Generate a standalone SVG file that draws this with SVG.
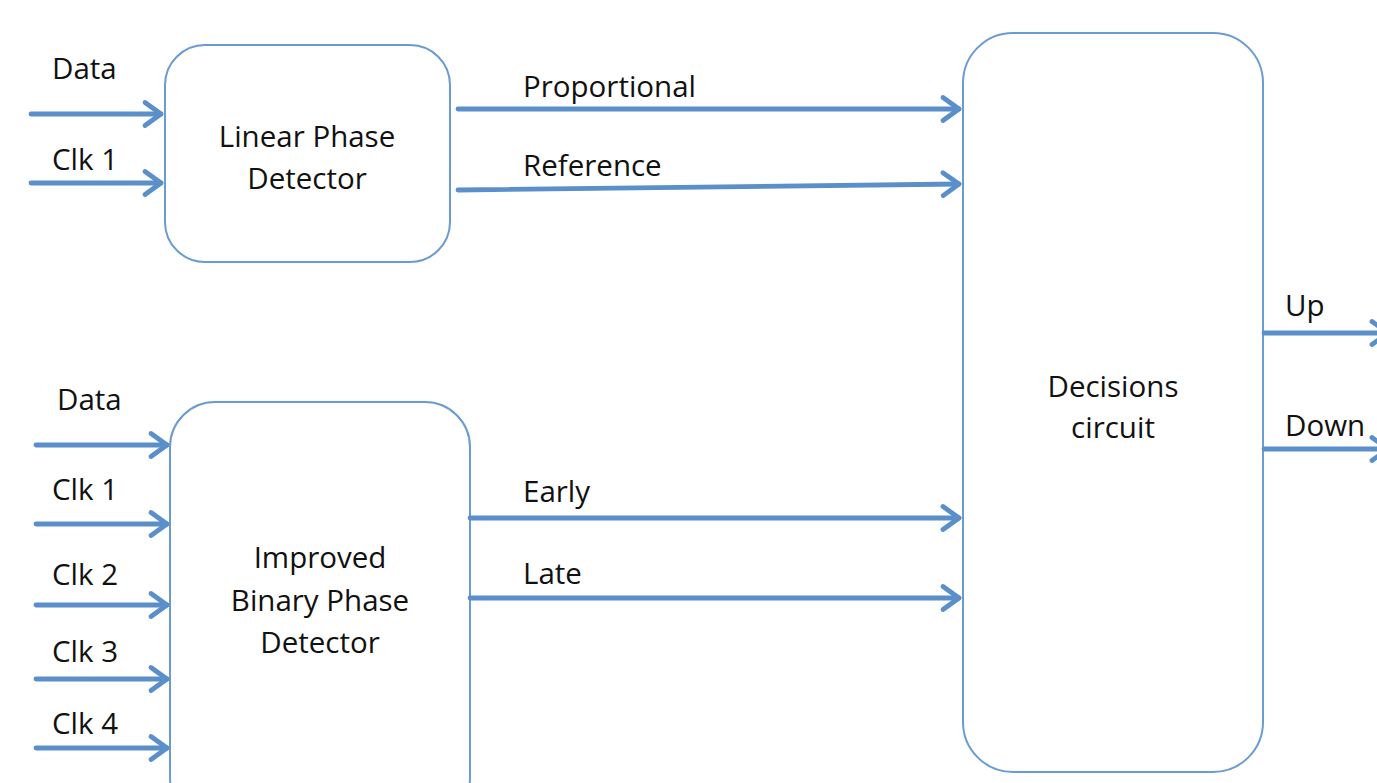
<svg xmlns="http://www.w3.org/2000/svg" width="1377" height="783" viewBox="0 0 1377 783">
<style>
.box{fill:#fff;stroke:#6a9bd1;stroke-width:2}
.wire{fill:none;stroke:#5b8fc9;stroke-width:4.8;stroke-linecap:round}
.t{font-family:"Open Sans","Liberation Sans",sans-serif;font-size:29.5px;fill:#111}
.c{text-anchor:middle}
</style>
<defs>
<marker id="ah" markerUnits="userSpaceOnUse" markerWidth="32" markerHeight="32" viewBox="-22 -16 32 32" refX="0" refY="0" orient="auto">
<path d="M-16,-11.5 L0,0 L-16,11.5" fill="none" stroke="#5b8fc9" stroke-width="4.8" stroke-linecap="round" stroke-linejoin="round"/>
</marker>
</defs>
<rect width="1377" height="783" fill="#fff"/>
<g id="lpd">
<rect class="box" x="165" y="45" width="285" height="217" rx="40"/>
<text class="t c" x="307" y="147">Linear Phase</text>
<text class="t c" x="307" y="189">Detector</text>
</g>
<g id="ibpd">
<rect class="box" x="170" y="402" width="300" height="420" rx="45"/>
<text class="t c" x="320" y="568">Improved</text>
<text class="t c" x="320" y="611">Binary Phase</text>
<text class="t c" x="320" y="653">Detector</text>
</g>
<g id="dc">
<rect class="box" x="963" y="33" width="300" height="739" rx="50"/>
<text class="t c" x="1113" y="397">Decisions</text>
<text class="t c" x="1113" y="438">circuit</text>
</g>
<g id="connectors">
<line class="wire" x1="31" y1="114" x2="161" y2="114" marker-end="url(#ah)"/>
<line class="wire" x1="31" y1="183" x2="161" y2="183" marker-end="url(#ah)"/>
<line class="wire" x1="458" y1="109" x2="959" y2="109" marker-end="url(#ah)"/>
<line class="wire" x1="458" y1="190" x2="959" y2="184" marker-end="url(#ah)"/>
<line class="wire" x1="36" y1="445" x2="167" y2="445" marker-end="url(#ah)"/>
<line class="wire" x1="36" y1="524" x2="167" y2="524" marker-end="url(#ah)"/>
<line class="wire" x1="36" y1="605" x2="167" y2="605" marker-end="url(#ah)"/>
<line class="wire" x1="36" y1="679" x2="167" y2="679" marker-end="url(#ah)"/>
<line class="wire" x1="36" y1="748" x2="167" y2="748" marker-end="url(#ah)"/>
<line class="wire" x1="470" y1="518" x2="959" y2="518" marker-end="url(#ah)"/>
<line class="wire" x1="470" y1="598" x2="959" y2="598" marker-end="url(#ah)"/>
<line class="wire" x1="1264" y1="333" x2="1388" y2="333" marker-end="url(#ah)"/>
<line class="wire" x1="1264" y1="449" x2="1388" y2="449" marker-end="url(#ah)"/>
</g>
<g id="labels">
<text class="t" x="52" y="79">Data</text>
<text class="t" x="52" y="170">Clk 1</text>
<text class="t" x="523" y="97">Proportional</text>
<text class="t" x="523" y="176">Reference</text>
<text class="t" x="57" y="410">Data</text>
<text class="t" x="52" y="500">Clk 1</text>
<text class="t" x="52" y="585">Clk 2</text>
<text class="t" x="52" y="662">Clk 3</text>
<text class="t" x="52" y="734">Clk 4</text>
<text class="t" x="523" y="502">Early</text>
<text class="t" x="523" y="584">Late</text>
<text class="t" x="1285" y="316">Up</text>
<text class="t" x="1285" y="436">Down</text>
</g>
</svg>
